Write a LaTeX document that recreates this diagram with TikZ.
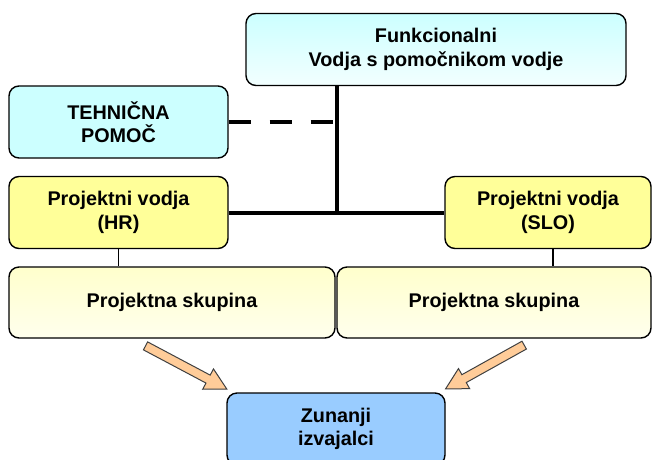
\documentclass[tikz,border=0pt]{standalone}
\usepackage{fontspec}
\setmainfont{Liberation Sans}
\usetikzlibrary{shapes.arrows}
\definecolor{tehfill}{RGB}{204,255,255}
\definecolor{vodfill}{RGB}{255,255,153}
\definecolor{skufill}{RGB}{255,255,204}
\definecolor{zunfill}{RGB}{153,204,255}
\definecolor{arrfill}{RGB}{255,204,153}
\begin{document}
\begin{tikzpicture}[x=1pt,y=-1pt,
  box/.style={draw, line width=1.4pt, rounded corners=10pt, align=center,
    font=\fontsize{19.8}{23.5}\selectfont\bfseries, minimum height=72pt, inner sep=0pt},
  thickline/.style={line width=4pt},
  thinline/.style={line width=1.2pt},
  blockarrow/.style={single arrow, draw=black!75, line width=1pt, fill=arrfill,
    inner xsep=0pt, inner ysep=4pt, single arrow head extend=7pt,
    single arrow tip angle=57, sloped, allow upside down}]
\useasboundingbox (0,0) rectangle (653,459);
\node[box, minimum width=380pt, top color=tehfill, bottom color=tehfill!25!white] (funk) at (436,49.5) {Funkcionalni\\Vodja s pomočnikom vodje};
\node[box, minimum width=219pt, fill=tehfill] (teh) at (118.5,122) {TEHNIČNA\\POMOČ};
\node[box, minimum width=219pt, fill=vodfill] (hr) at (118.5,212.5) {Projektni vodja\\(HR)};
\node[box, minimum width=206pt, fill=vodfill] (slo) at (548,212.5) {Projektni vodja\\(SLO)};
\node[box, minimum width=326pt, minimum height=71pt, top color=skufill, bottom color=skufill!35!white] (skl) at (172,302.5) {Projektna skupina};
\node[box, minimum width=314pt, minimum height=71pt, top color=skufill, bottom color=skufill!35!white] (skr) at (494,302.5) {Projektna skupina};
\node[box, minimum width=218pt, fill=zunfill] (zun) at (336,429) {Zunanji\\izvajalci};
\coordinate (j) at (337,212.5);
\draw[thickline] (funk.south -| j) -- (j);
\draw[thickline] (hr.east) -- (hr.east -| slo.west);
\draw[thickline, dash pattern=on 22pt off 19pt] (teh.east) -- (teh.east -| j);
\draw[thinline] (hr.south) -- (hr.south |- skl.north);
\draw[thinline] ([xshift=5pt]slo.south) -- ([xshift=5pt]slo.south |- skr.north);
\coordinate (la) at (142,344);
\coordinate (lb) at (223,387);
\coordinate (ra) at (528,343);
\coordinate (rb) at (449,387);
\path (la) -- node[blockarrow, minimum height=92pt] {} (lb);
\path (ra) -- node[blockarrow, minimum height=90pt] {} (rb);
\end{tikzpicture}
\end{document}
